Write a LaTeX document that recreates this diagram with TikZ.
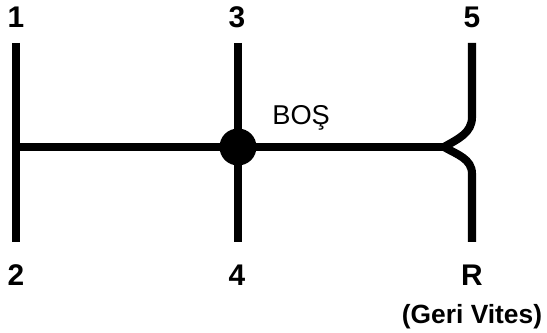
\documentclass[tikz,border=0pt]{standalone}
\usepackage{fontspec}
\setmainfont{Liberation Sans}
\usepackage{tikz}
\usetikzlibrary{positioning, calc}

\begin{document}
\begin{tikzpicture}[
    x=0.02cm, y=-0.02cm,
    rod/.style={line width=4.6pt, line cap=butt},
    gear/.style={font=\bfseries\fontsize{17}{19}\selectfont, inner sep=0pt},
    note/.style={font=\bfseries\fontsize{15}{17}\selectfont, inner sep=0pt},
    knob/.style={circle, fill=black, minimum size=0.74cm, inner sep=0pt},
  ]
    \useasboundingbox (0,0) rectangle (547,333);

    % Rod end points
    \coordinate (A1) at (16,43);
    \coordinate (A2) at (16,242);
    \coordinate (B1) at (238,43);
    \coordinate (B2) at (238,242);
    \coordinate (C1) at (472,43);
    \coordinate (C2) at (472,242);
    \coordinate (CT) at (472,117);
    \coordinate (CB) at (472,174);
    \coordinate (J)  at (444,147);
    \coordinate (L)  at (16,147);

    % Gear labels
    \node[gear] (G1) at (16,17)  {1};
    \node[gear] (G3) at (237,17) {3};
    \node[gear] (G5) at (472,17) {5};
    \node[gear] (G2) at (16,275)  {2};
    \node[gear] (G4) at (237,275) {4};
    \node[gear] (GR) at (472,275) {R};
    \node[note, below=0.36cm of GR] (NR) {(Geri Vites)};

    % Rods
    \draw[rod] (A1) -- (A2);
    \draw[rod] (B1) -- (B2);
    \draw[rod] (L) -- (J);
    \draw[rod] (C1) -- (CT) to[out=-90, in=30] (J);
    \draw[rod] (C2) -- (CB) to[out=90, in=-30] (J);

    % Neutral knob
    \node[knob] (K) at (238,147) {};
    \node[font=\fontsize{15.5}{17}\selectfont, inner sep=0pt, anchor=west] (N) at (272,118) {BOŞ};
  \end{tikzpicture}
\end{document}
